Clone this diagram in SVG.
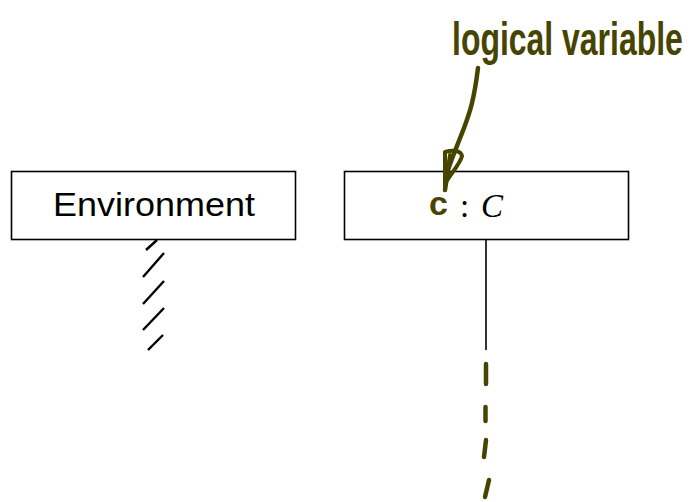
<svg xmlns="http://www.w3.org/2000/svg" width="694" height="502" viewBox="0 0 694 502">
  <style>
    .box { fill: #ffffff; stroke: #000000; stroke-width: 1.6; }
    .label { font-family: "Liberation Sans", Arial, sans-serif; font-size: 33px; fill: #000000; }
    .math { font-family: "Liberation Serif", "Times New Roman", serif; font-size: 33px; fill: #000000; }
    .ink { stroke: #474400; fill: none; stroke-linecap: round; stroke-linejoin: round; }
    .inktext { font-family: "Liberation Sans", Arial, sans-serif; font-weight: bold; fill: #474400; }
    .hatch { stroke: #000000; stroke-width: 2.4; }
  </style>

  <!-- environment object with hatched lifeline -->
  <g id="environment">
    <rect class="box" x="11.5" y="171.5" width="284" height="68"/>
    <text class="label" x="53" y="216" textLength="202" lengthAdjust="spacingAndGlyphs">Environment</text>
  </g>

  <!-- object c : C -->
  <g id="object-c">
    <rect class="box" x="344.5" y="171.5" width="284" height="68"/>
    <text class="math" x="460" y="217">:</text>
    <text class="math" x="481" y="217" font-style="italic">C</text>
    <text class="inktext" x="429" y="215" font-size="34">c</text>
  </g>

  <!-- handwritten annotation, stretched tall like pen lettering -->
  <g id="annotation">
    <text class="inktext" font-size="34" transform="translate(452,55) scale(0.94,1.35)">logical variable</text>
  </g>

  <g id="connectors">
    <!-- hatched environment lifeline -->
    <g class="hatch">
      <line x1="146" y1="250" x2="157" y2="240"/>
      <line x1="143" y1="277" x2="164" y2="253"/>
      <line x1="143" y1="304" x2="164" y2="281"/>
      <line x1="143" y1="330" x2="164" y2="308"/>
      <line x1="148" y1="350" x2="163" y2="335"/>
    </g>

    <!-- lifeline of c -->
    <line x1="486" y1="240" x2="486" y2="350" stroke="#000000" stroke-width="1.6"/>
    <g class="ink" stroke-width="4.5">
      <line x1="486" y1="364" x2="486" y2="384"/>
      <line x1="485.5" y1="407" x2="485.5" y2="421"/>
      <line x1="486" y1="440" x2="484" y2="457"/>
      <line x1="489" y1="480" x2="485" y2="497"/>
    </g>

    <!-- annotation arrow to c -->
    <g class="ink" stroke-width="4.5">
      <path d="M478 68 C 474 100 470 112 464 128 C 457 146 452 158 448 170 L 445 190"/>
      <path d="M445 190 L 445 152 C 452 150 461 150 462 156 C 460 164 452 172 446 182 L 450 155" stroke-width="4"/>
    </g>
  </g>
</svg>
